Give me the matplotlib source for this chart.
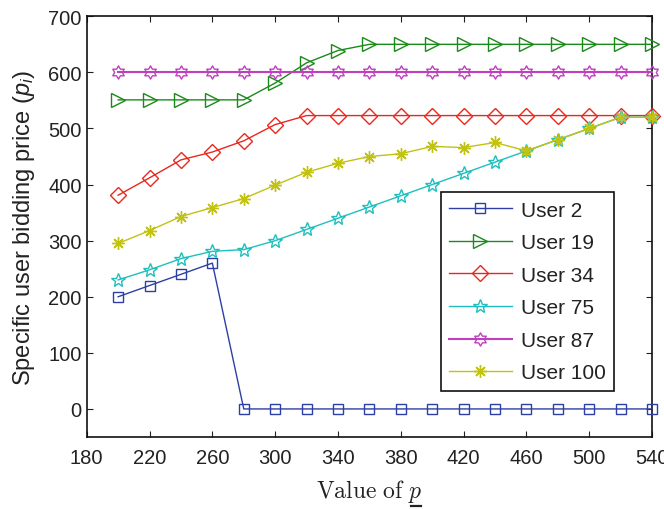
import numpy as np
import matplotlib
matplotlib.use("Agg")
import matplotlib.pyplot as plt
from matplotlib.path import Path
from matplotlib.lines import Line2D

plt.rcParams['font.family'] = ['Liberation Sans', 'DejaVu Sans']
plt.rcParams['mathtext.fontset'] = 'custom'
plt.rcParams['mathtext.it'] = 'Liberation Sans:italic'
plt.rcParams['mathtext.rm'] = 'Liberation Sans'

p_values = [200, 220, 240, 260, 280, 300, 320, 340, 360, 380, 400, 420, 440, 460, 480, 500, 520, 540]

user2 = [200, 220, 240, 260, 0, 0, 0, 0, 0, 0, 0, 0, 0, 0, 0, 0, 0, 0]
user19 = [551, 551, 551, 551, 551, 581, 617, 639, 650, 650, 650, 650, 650, 650, 650, 650, 650, 650]
user34 = [381, 412, 444, 458, 478, 507, 523, 523, 523, 523, 523, 523, 523, 523, 523, 523, 523, 523]
user75 = [230, 248, 268, 281, 284, 300, 320, 340, 360, 380, 400, 420, 440, 460, 480, 500, 520, 520]
user87 = [600] * 18
user100 = [295, 318, 343, 359, 375, 399, 422, 438, 450, 455, 468, 466, 475, 460, 480, 500, 520, 520]

labels = ['User 2', 'User 19', 'User 34', 'User 75', 'User 87', 'User 100']
x_ticks = [180, 220, 260, 300, 340, 380, 420, 460, 500, 540]
y_ticks = [0, 100, 200, 300, 400, 500, 600, 700]

# hexagram marker
hexagram = Path.unit_regular_star(6, innerCircle=1/np.sqrt(3))

series = [user2, user19, user34, user75, user87, user100]
colors = ['#2d3fa6', '#1a8a1a', '#e8281e', '#1fbfbf', '#bf3fbf', '#c2c212']
markers = ['s', '>', 'D', '*', hexagram, (8, 2, 0)]
msizes = [7, 10, 8, 10, 9.5, 9]
lws = [1.0, 1.0, 1.0, 1.0, 1.5, 1.0]

fig = plt.figure(figsize=(6.64, 5.10), dpi=100)
ax = fig.add_axes([0.1306, 0.1412, 0.8514, 0.8249])

for ys, c, m, ms, lw, lab in zip(series, colors, markers, msizes, lws, labels):
    ax.plot(p_values, ys, color=c, marker=m, markersize=ms, markerfacecolor='none',
            markeredgecolor=c, markeredgewidth=1.0, linewidth=lw, label=lab, clip_on=False, zorder=3)

ax.set_xlim(180, 540)
ax.set_ylim(-50, 700)
ax.set_xticks(x_ticks)
ax.set_yticks(y_ticks)
ax.tick_params(direction='in', length=4, width=0.8, labelsize=14.5, top=True, right=True,
               labeltop=False, labelright=False, colors='#222222', labelcolor='#222222')
ax.tick_params(axis='x', pad=8)
for s in ax.spines.values():
    s.set_linewidth(1.2)
    s.set_color('#111111')

ax.set_ylabel(r'Specific user bidding price ($p_i$)', fontsize=17, color='#222222',
              math_fontfamily='custom', labelpad=8)

ax.set_xlabel(r'$\mathrm{Value\ of\ }p$', fontsize=17, color='#222222',
              math_fontfamily='cm', labelpad=7)

leg = ax.legend(loc='lower right', bbox_to_anchor=(0.933, 0.110), fontsize=15,
                frameon=True, fancybox=False, edgecolor='#111111', framealpha=1,
                handlelength=3.0, handletextpad=0.45, labelspacing=0.65, borderpad=0.4,
                borderaxespad=0.0)
leg.get_frame().set_linewidth(1.2)
for t in leg.get_texts():
    t.set_color('#222222')

# underline beneath the "p" of the x label
fig.canvas.draw()
bb = ax.xaxis.label.get_window_extent()
uy = max(bb.y0 - 2, 2.5)
fig.add_artist(Line2D([bb.x1 - 11, bb.x1 - 1], [uy, uy],
                      transform=None, color='#222222', linewidth=1.6))

fig.savefig('out.png', dpi=100)
